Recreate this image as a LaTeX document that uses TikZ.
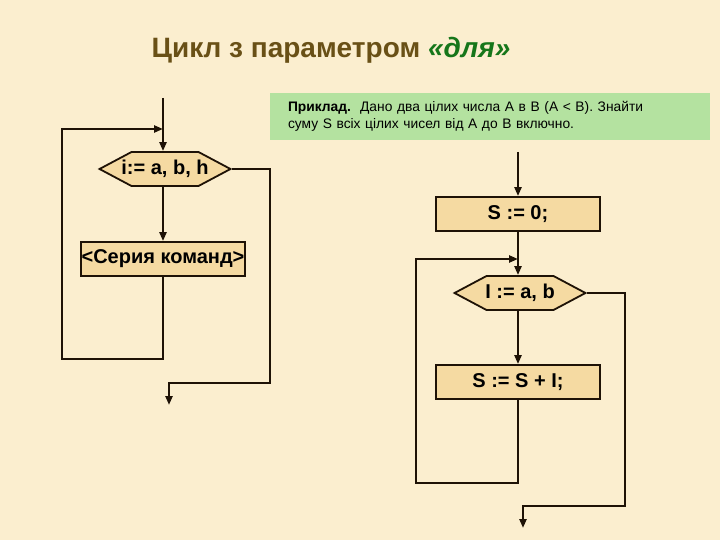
\documentclass[tikz,border=0pt]{standalone}
\usepackage{fontspec}
\setmainfont{Liberation Sans}
\usepackage{tikz}
\usetikzlibrary{arrows.meta,positioning,shapes.symbols}
\definecolor{bgcream}{RGB}{251,238,207}
\definecolor{boxtan}{RGB}{245,218,162}
\definecolor{notegreen}{RGB}{180,226,160}
\definecolor{titlebrown}{RGB}{105,80,22}
\definecolor{titlegreen}{RGB}{22,118,26}
\definecolor{linedark}{RGB}{30,18,6}
\newcommand{\hexlabel}[1]{\makebox[67pt]{#1}}

\begin{document}
\begin{tikzpicture}[
    x=1pt, y=-1pt,
    flow/.style={line width=2.6pt, draw=linedark, -{Triangle[length=9pt,width=7pt]}},
    wire/.style={line width=2.6pt, draw=linedark},
    cmdbox/.style={draw=linedark, line width=1.8pt, fill=boxtan, minimum width=164pt,
                   minimum height=34pt, inner sep=0pt, font=\fontsize{20}{24}\selectfont\bfseries},
    loophex/.style={signal, signal to=west and east, signal pointer angle=56, draw=linedark,
                    line width=1.8pt, fill=boxtan, minimum height=34pt,
                    inner sep=0pt, font=\fontsize{20}{24}\selectfont\bfseries}
]
\fill[bgcream] (0,0) rectangle (720,540);
\useasboundingbox (0,0) rectangle (720,540);

% title and example text
\node (title) at (331,50) {\fontsize{28}{32}\selectfont\bfseries
    \textcolor{titlebrown}{Цикл з параметром}\ \textcolor{titlegreen}{\itshape «для»}};
\node[fill=notegreen, minimum width=440pt, minimum height=47pt, text width=404pt,
      inner xsep=18pt, align=left, font=\fontsize{13.8}{17}\selectfont] (task) at (490,116.5)
    {\textbf{Приклад.}\ \ Дано два цілих числа А в В (А < В). Знайти\\
     суму S всіх цілих чисел від А до В включно.};

% general scheme
\node[loophex] (lhex) at (165,169) {\hexlabel{i:= a, b, h}};
\node[cmdbox] (lser) at (163,259) {<Серия команд>};
\coordinate (ltop) at (163,98);
\coordinate (ljoin) at (163,129);
\coordinate (lback) at (62,359);
\coordinate (lexit) at (270,383);
\coordinate (lout) at (169,405);
\draw[flow] (ltop) -- (ltop |- lhex.north);
\draw[flow] (lhex.south -| lser.north) -- (lser.north);
\draw[flow] (lser.south) |- (lback) |- (ljoin);
\draw[flow] (lhex.east) -| (lexit) -| (lout);

% example scheme
\node[cmdbox] (rzero) at (518,214) {S := 0;};
\node[loophex] (rhex) at (520,293) {\hexlabel{I := a, b}};
\node[cmdbox] (rsum) at (518,382) {S := S + I;};
\coordinate (rtop) at (518,152);
\coordinate (rjoin) at (518,259);
\coordinate (rback) at (416,483);
\coordinate (rexit) at (625,506);
\coordinate (rout) at (523,528);
\draw[flow] (rtop) -- (rzero.north);
\draw[wire] (rzero.south) -- (rjoin);
\draw[flow] (rjoin) -- (rjoin |- rhex.north);
\draw[flow] (rhex.south -| rsum.north) -- (rsum.north);
\draw[flow] (rsum.south) |- (rback) |- (rjoin);
\draw[flow] (rhex.east) -| (rexit) -| (rout);
\end{tikzpicture}
\end{document}
